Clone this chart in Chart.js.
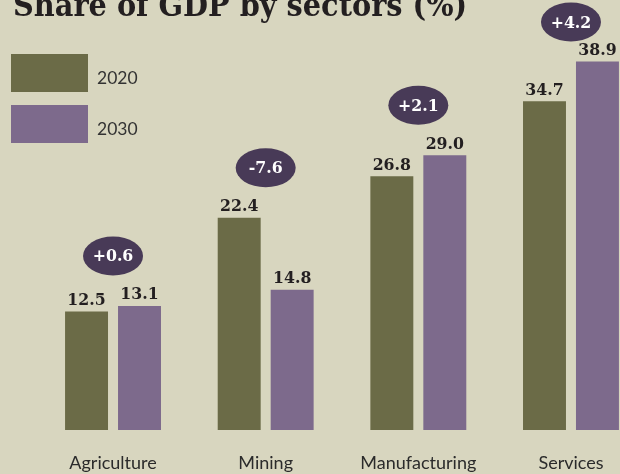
<!DOCTYPE html>
<html>
<head>
<meta charset="utf-8">
<script src="https://cdn.jsdelivr.net/npm/chart.js@4"></script>
<style>
  html, body { margin: 0; padding: 0; background: #d8d6bf; overflow: hidden; }
  body { width: 620px; height: 474px; position: relative; }
  #wrap { position: absolute; left: 0; top: 0; width: 650px; height: 474px; }
  #title {
    position: absolute; left: 13px; top: -14px; margin: 0;
    font-family: "DejaVu Serif Condensed", "DejaVu Serif", serif;
    font-weight: bold; font-size: 32px; line-height: 38px; color: #231f20; white-space: nowrap;
  }
  .legend-item { position: absolute; left: 11px; height: 38px; }
  .legend-item .sw { position: absolute; left: 0; top: 0; width: 77px; height: 38px; }
  .legend-item .lb {
    position: absolute; left: 86px; top: 13px;
    font-family: Lato, "Open Sans", sans-serif; font-size: 17.5px; color: #333;
  }
</style>
</head>
<body>
<div id="wrap"><canvas id="chart"></canvas></div>
<div id="title">Share of GDP by sectors (%)</div>
<div id="legend"></div>
<script>
// Sectors and their share of GDP (%)
const categories = ['Agriculture', 'Mining', 'Manufacturing', 'Services'];
const seriesNames = ['2020', '2030'];
const share2020 = [12.5, 22.4, 26.8, 34.7];
const share2030 = [13.1, 14.8, 29.0, 38.9];
// Change in percentage points shown in the badges
const changeLabels = ['+0.6', '-7.6', '+2.1', '+4.2'];

const colors = ['#6b6b47', '#7d6a8c'];
const badgeColor = '#483a57';
const valueFont = 'bold 17.5px "DejaVu Serif Condensed", "DejaVu Serif", serif';

// Legend
const legend = document.getElementById('legend');
seriesNames.forEach((name, i) => {
  const item = document.createElement('div');
  item.className = 'legend-item';
  item.style.top = (54 + i * 51) + 'px';
  item.innerHTML = '<div class="sw" style="background:' + colors[i] + '"></div><div class="lb">' + name + '</div>';
  legend.appendChild(item);
});

// Value labels above each bar and change badges above each group
const annotations = {
  id: 'annotations',
  afterDatasetsDraw(chart) {
    const ctx = chart.ctx;
    const metas = [chart.getDatasetMeta(0), chart.getDatasetMeta(1)];
    ctx.save();
    ctx.font = valueFont;
    ctx.textAlign = 'center';
    ctx.textBaseline = 'alphabetic';
    ctx.fillStyle = '#231f20';
    metas.forEach((meta, d) => {
      meta.data.forEach((bar, i) => {
        const v = chart.data.datasets[d].data[i];
        ctx.fillText(v.toFixed(1), bar.x, bar.y - 6.5);
      });
    });
    const xs = chart.scales.x;
    const ys = chart.scales.y;
    const rx = 30, ry = 19.5;
    categories.forEach((c, i) => {
      const top = ys.getPixelForValue(Math.max(share2020[i], share2030[i]));
      const cx = xs.getPixelForValue(i);
      const cy = Math.max(top - 50, ry + 2.5);
      ctx.beginPath();
      ctx.ellipse(cx, cy, rx, ry, 0, 0, Math.PI * 2);
      ctx.fillStyle = badgeColor;
      ctx.fill();
      ctx.fillStyle = '#ffffff';
      ctx.textBaseline = 'middle';
      ctx.fillText(changeLabels[i], cx, cy + 1);
      ctx.textBaseline = 'alphabetic';
    });
    ctx.restore();
  }
};

new Chart(document.getElementById('chart'), {
  type: 'bar',
  data: {
    labels: categories,
    datasets: [
      { label: seriesNames[0], data: share2020, backgroundColor: colors[0] },
      { label: seriesNames[1], data: share2030, backgroundColor: colors[1] }
    ]
  },
  options: {
    responsive: true,
    maintainAspectRatio: false,
    devicePixelRatio: 1,
    animation: false,
    events: [],
    barPercentage: 0.811,
    categoryPercentage: 0.694,
    layout: { padding: { left: 36.7, right: 2.7, top: 0, bottom: 0 } },
    plugins: { legend: { display: false }, tooltip: { enabled: false }, title: { display: false } },
    scales: {
      x: {
        grid: { display: false, drawTicks: false },
        border: { display: false },
        ticks: {
          color: '#2b2b2b',
          padding: 22.4,
          maxRotation: 0,
          font: { family: 'Lato, "Open Sans", sans-serif', size: 18 }
        },
        afterFit(scale) { scale.height = 44; }
      },
      y: {
        display: false,
        min: 0,
        max: 45.4
      }
    }
  },
  plugins: [annotations]
});
</script>
</body>
</html>
